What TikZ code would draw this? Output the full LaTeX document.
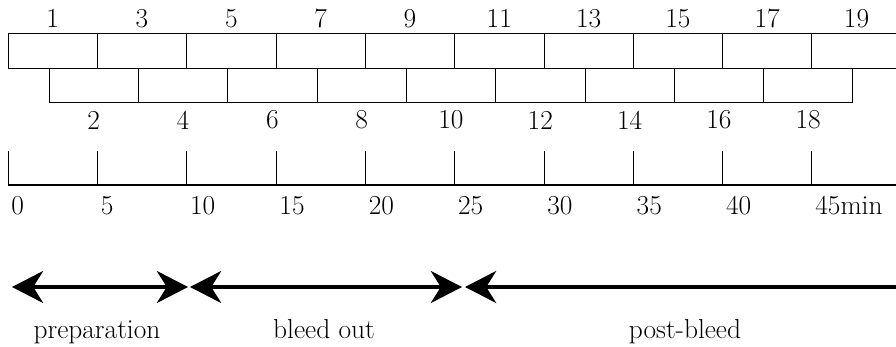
\documentclass[tikz,border=0pt]{standalone}
\usepackage{tikz}
\usetikzlibrary{arrows.meta}

\begin{document}
\begin{tikzpicture}[scale=1,auto=center,
		lbl/.style={font=\fontsize{19.5}{23}\selectfont,inner sep=0pt},
		thin box/.style={line width=0.6pt},
		head/.tip={Stealth[length=0.78cm,width=0.8cm,inset=0.25cm]},
		phase/.style={line width=2.6pt}]
			\useasboundingbox (0,0) rectangle (22.4,8.65);
			%\draw [help lines] (0,0) grid (22,8);
			% odd row
			\draw[thin box] (0.2,7.825) -- (22.4,7.825);
			\draw[thin box] (0.2,6.95) -- (22.4,6.95);
			\foreach \i [evaluate=\i as \x using 0.2+2.233*\i, evaluate=\i as \n using int(2*\i+1)] in {0,...,9} {
				\draw[thin box] (\x,7.825) -- (\x,6.95);
				\node[lbl] (odd\n) at (\x+1.1165,8.18) {\n};
			}
			% even row
			\draw[thin box] (1.225,6.1) -- (21.322,6.1);
			\foreach \i [evaluate=\i as \x using 1.225+2.233*\i] in {0,...,9} {
				\draw[thin box] (\x,6.95) -- (\x,6.1);
			}
			\foreach \i [evaluate=\i as \x using 1.225+2.233*\i, evaluate=\i as \n using int(2*\i+2)] in {0,...,8} {
				\node[lbl] (even\n) at (\x+1.1165,5.65) {\n};
			}
			% time axis
			\draw[line width=0.8pt] (0.2,4.025) -- (22.4,4.025);
			\foreach \i/\t [evaluate=\i as \x using 0.2+2.233*\i] in {0/0,1/5,2/10,3/15,4/20,5/25,6/30,7/35,8/40,9/45min} {
				\draw[thin box] (\x,4.025) -- (\x,4.875);
				\node[lbl,anchor=west] (t\i) at (\x+0.08,3.5) {\t};
			}
			% phases
			\coordinate (a0) at (0.3,1.475);
			\coordinate (a1) at (4.7,1.475);
			\coordinate (b0) at (4.75,1.475);
			\coordinate (b1) at (11.55,1.475);
			\coordinate (c0) at (11.625,1.475);
			\coordinate (c1) at (22.4,1.475);
			\draw[phase,head-head] (a0) -- (a1);
			\draw[phase,head-head] (b0) -- (b1);
			\draw[phase,head-] (c0) -- (c1);
			\node[lbl,anchor=base] (prep) at (2.425,0.2) {preparation};
			\node[lbl,anchor=base] (bleed) at (8.1,0.2) {bleed out};
			\node[lbl,anchor=base] (post) at (17.125,0.2) {post-bleed};
		\end{tikzpicture}
\end{document}
